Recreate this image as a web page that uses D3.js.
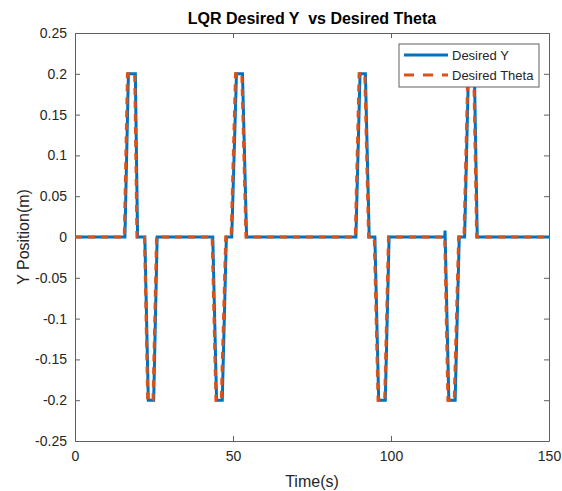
<!DOCTYPE html>
<html>
<meta charset="utf-8">
<title>LQR Desired Y vs Desired Theta</title>
<script src="https://cdnjs.cloudflare.com/ajax/libs/d3/7.8.5/d3.min.js"></script>
<style>
body { margin: 0; background: #fff; }
text { font-family: "Liberation Sans", Arial, sans-serif; fill: #262626; }
.tick text { font-size: 14px; }
.title { font-size: 16px; font-weight: bold; fill: #000; white-space: pre; }
.label { font-size: 16px; }
.leg { font-size: 13px; }
</style>
<body>
<div id="chart"></div>
<script>
// Desired Y (blue, solid)
var yTime = [0, 15.8, 16.9, 19.1, 19.8, 22.1, 23.2, 24.9, 26.0, 43.6, 44.8, 46.6, 47.9, 49.6, 51.1, 53.0, 54.3,
             88.9, 90.2, 91.9, 93.1, 94.9, 96.1, 98.2, 99.4, 117.0, 117.1, 118.3, 120.3, 121.6, 123.3, 124.5, 126.4, 127.3, 150];
var yVal  = [0, 0, 0.2, 0.2, 0, 0, -0.2, -0.2, 0, 0, -0.2, -0.2, 0, 0, 0.2, 0.2, 0,
             0, 0.2, 0.2, 0, 0, -0.2, -0.2, 0, 0, 0.008, -0.2, -0.2, 0, 0, 0.2, 0.2, 0, 0];
// Desired Theta (orange, dashed)
var thTime = [0, 15.6, 16.6, 18.9, 19.6, 22.0, 23.0, 24.7, 25.8, 43.4, 44.6, 46.3, 47.7, 49.4, 50.8, 52.8, 54.1,
              88.7, 89.9, 91.7, 92.9, 94.7, 95.9, 98.0, 99.2, 117.0, 118.0, 120.0, 121.4, 123.1, 124.3, 126.2, 127.1, 150];
var thVal  = [0, 0, 0.2, 0.2, 0, 0, -0.2, -0.2, 0, 0, -0.2, -0.2, 0, 0, 0.2, 0.2, 0,
              0, 0.2, 0.2, 0, 0, -0.2, -0.2, 0, 0, -0.2, -0.2, 0, 0, 0.2, 0.2, 0, 0];
var xTicks = [0, 50, 100, 150];
var yTicks = [-0.25, -0.2, -0.15, -0.1, -0.05, 0, 0.05, 0.1, 0.15, 0.2, 0.25];

var W = 562, H = 491;
var margin = {top: 33, right: 13, bottom: 50, left: 75};
var x = d3.scaleLinear().domain([0, 150]).range([margin.left, W - margin.right]);
var y = d3.scaleLinear().domain([-0.25, 0.25]).range([H - margin.bottom, margin.top]);

var svg = d3.select("#chart").append("svg").attr("width", W).attr("height", H);

var fmt = function(d) { return String(+d.toFixed(2)); };

// axes with inward ticks, box on
svg.append("g").attr("transform", "translate(0," + y(-0.25) + ")")
  .call(d3.axisBottom(x).tickValues(xTicks).tickSizeInner(-5).tickSizeOuter(0).tickPadding(10));
svg.append("g").attr("transform", "translate(0," + y(0.25) + ")")
  .call(d3.axisTop(x).tickValues(xTicks).tickSizeInner(-5).tickSizeOuter(0).tickFormat(""));
svg.append("g").attr("transform", "translate(" + x(0) + ",0)")
  .call(d3.axisLeft(y).tickValues(yTicks).tickSizeInner(-5).tickSizeOuter(0).tickPadding(8).tickFormat(fmt));
svg.append("g").attr("transform", "translate(" + x(150) + ",0)")
  .call(d3.axisRight(y).tickValues(yTicks).tickSizeInner(-5).tickSizeOuter(0).tickFormat(""));
svg.selectAll(".domain, .tick line").attr("stroke", "#606060");

var line = d3.line().x(function(d) { return x(d[0]); }).y(function(d) { return y(d[1]); });

svg.append("path").datum(d3.zip(yTime, yVal)).attr("d", line)
  .attr("fill", "none").attr("stroke", "#0072BD").attr("stroke-width", 3);
svg.append("path").datum(d3.zip(thTime, thVal)).attr("d", line)
  .attr("fill", "none").attr("stroke", "#D95319").attr("stroke-width", 3)
  .attr("stroke-dasharray", "7,6");

// title & labels
svg.append("text").attr("class", "title").attr("x", 312).attr("y", 24)
  .attr("text-anchor", "middle").text("LQR Desired Y  vs Desired Theta");
svg.append("text").attr("class", "label").attr("x", x(75)).attr("y", 487)
  .attr("text-anchor", "middle").text("Time(s)");
svg.append("text").attr("class", "label").attr("transform", "translate(29," + y(0) + ") rotate(-90)")
  .attr("text-anchor", "middle").text("Y Position(m)");

// legend
var leg = svg.append("g");
leg.append("rect").attr("x", 399).attr("y", 44).attr("width", 140).attr("height", 43)
  .attr("fill", "#fff").attr("stroke", "#606060");
leg.append("line").attr("x1", 404).attr("x2", 448).attr("y1", 55).attr("y2", 55)
  .attr("stroke", "#0072BD").attr("stroke-width", 3);
leg.append("line").attr("x1", 404).attr("x2", 448).attr("y1", 75).attr("y2", 75)
  .attr("stroke", "#D95319").attr("stroke-width", 3).attr("stroke-dasharray", "10,9");
leg.append("text").attr("class", "leg").attr("x", 452).attr("y", 60).text("Desired Y");
leg.append("text").attr("class", "leg").attr("x", 452).attr("y", 80).text("Desired Theta");
</script>
</body>
</html>
